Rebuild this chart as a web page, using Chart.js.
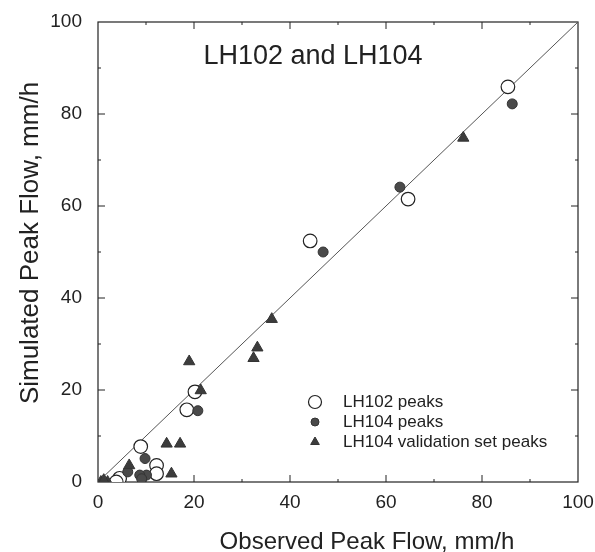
<!DOCTYPE html>
<html>
<head>
<meta charset="utf-8">
<script src="https://cdn.jsdelivr.net/npm/chart.js@4.4.0/dist/chart.umd.min.js"></script>
<style>
    html, body { margin: 0; padding: 0; background: #fff; }
</style>
</head>
<body>
<canvas id="c" width="595" height="552"></canvas>
<script>
// observed (x) vs simulated (y) peak flow, mm/h
const lh102Obs = [85.4, 64.6, 44.2, 20.2, 18.5, 8.9, 12.2, 12.2, 4.5, 3.8];
const lh102Sim = [85.9, 61.5, 52.4, 19.6, 15.7, 7.7, 3.6, 1.8, 0.8, 0.0];

const lh104Obs = [86.3, 62.9, 46.9, 20.8, 9.8, 10.1, 8.7, 9.1, 6.2];
const lh104Sim = [82.2, 64.1, 50.0, 15.5, 5.1, 1.5, 1.5, 0.7, 2.2];

const valObs = [76.1, 36.2, 33.2, 32.4, 19.0, 21.4, 14.3, 17.1, 15.3, 6.5, 0.6, 2.0, 1.2];
const valSim = [74.8, 35.4, 29.2, 26.9, 26.2, 19.9, 8.3, 8.3, 1.8, 3.6, 0.0, 0.0, 0.4];

const lineObs = [0, 100];
const lineSim = [0, 100];

const xTicks = [0, 20, 40, 60, 80, 100];
const yTicks = [0, 20, 40, 60, 80, 100];

const legendLabels = ['LH102 peaks', 'LH104 peaks', 'LH104 validation set peaks'];

const pts = (xs, ys) => xs.map((x, i) => ({ x: x, y: ys[i] }));
const FONT = "'Liberation Sans', Arial, Helvetica, sans-serif";
const INK = '#222';

// frame, inward ticks, titles and legend
const decorations = {
    id: 'decorations',
    beforeDatasetsDraw(chart) {
        const ctx = chart.ctx;
        const a = chart.chartArea;
        const xs = chart.scales.x, ys = chart.scales.y;
        ctx.save();
        ctx.strokeStyle = INK;
        ctx.lineWidth = 1.2;
        ctx.strokeRect(a.left, a.top, a.right - a.left, a.bottom - a.top);
        ctx.lineWidth = 1;
        for (let v = 10; v < 100; v += 10) {
            let len = v % 20 === 0 ? 7 : 3;
            let px = xs.getPixelForValue(v);
            let py = ys.getPixelForValue(v);
            ctx.beginPath();
            ctx.moveTo(px, a.bottom); ctx.lineTo(px, a.bottom - len);
            ctx.moveTo(px, a.top); ctx.lineTo(px, a.top + len);
            ctx.moveTo(a.left, py); ctx.lineTo(a.left + len, py);
            ctx.moveTo(a.right, py); ctx.lineTo(a.right - len, py);
            ctx.stroke();
        }
        ctx.restore();
    },
    afterDraw(chart) {
        const ctx = chart.ctx;
        ctx.save();
        ctx.fillStyle = INK;
        ctx.textAlign = 'center';
        ctx.textBaseline = 'middle';

        // chart title
        ctx.font = '27px ' + FONT;
        ctx.fillText('LH102 and LH104', 313, 57);

        // axis titles
        ctx.font = '24px ' + FONT;
        ctx.fillText('Observed Peak Flow, mm/h', 367, 542);
        ctx.save();
        ctx.translate(31, 243);
        ctx.rotate(-Math.PI / 2);
        ctx.font = '26px ' + FONT;
        ctx.fillText('Simulated Peak Flow, mm/h', 0, 0);
        ctx.restore();

        // legend
        const H = Chart.helpers;
        const rows = [402, 422, 442];
        const styles = [
            { pointStyle: 'circle', radius: 6.5, fill: '#fff', stroke: INK, borderWidth: 1.2 },
            { pointStyle: 'circle', radius: 4, fill: '#4a4a4a', stroke: '#333', borderWidth: 1 },
            { pointStyle: 'triangle', radius: 5, fill: '#3c3c3c', stroke: '#333', borderWidth: 1 },
        ];
        ctx.font = '17px ' + FONT;
        ctx.textAlign = 'left';
        legendLabels.forEach((label, i) => {
            const s = styles[i];
            ctx.fillStyle = s.fill;
            ctx.strokeStyle = s.stroke;
            ctx.lineWidth = s.borderWidth;
            H.drawPoint(ctx, { pointStyle: s.pointStyle, radius: s.radius, rotation: 0, borderWidth: s.borderWidth }, 315, rows[i]);
            ctx.fillStyle = INK;
            ctx.fillText(label, 343, rows[i]);
        });
        ctx.restore();
    }
};

new Chart(document.getElementById('c'), {
    type: 'scatter',
    data: {
        datasets: [
            {
                label: legendLabels[2],
                data: pts(valObs, valSim),
                pointStyle: 'triangle',
                radius: 6.5,
                backgroundColor: '#3c3c3c',
                borderColor: '#333',
                borderWidth: 1,
            },
            {
                label: legendLabels[1],
                data: pts(lh104Obs, lh104Sim),
                pointStyle: 'circle',
                radius: 5,
                backgroundColor: '#4a4a4a',
                borderColor: '#333',
                borderWidth: 1,
            },
            {
                label: legendLabels[0],
                data: pts(lh102Obs, lh102Sim),
                pointStyle: 'circle',
                radius: 6.8,
                backgroundColor: '#fff',
                borderColor: INK,
                borderWidth: 1.2,
            },
            {
                label: '1:1',
                data: pts(lineObs, lineSim),
                showLine: true,
                pointRadius: 0,
                borderColor: '#555',
                borderWidth: 1,
            },
        ],
    },
    options: {
        responsive: false,
        animation: false,
        layout: { padding: { left: 0, top: 22, right: 17, bottom: 0 } },
        plugins: {
            legend: { display: false },
            tooltip: { enabled: false },
        },
        scales: {
            x: {
                type: 'linear',
                min: 0,
                max: 100,
                afterBuildTicks: (s) => { s.ticks = xTicks.map(v => ({ value: v })); },
                afterFit: (s) => {
                    s.height = 70;
                    s.paddingLeft = 0;
                    s.paddingRight = 0;
                },
                grid: { display: false, drawTicks: false },
                border: { display: false },
                ticks: {
                    padding: 9,
                    color: INK,
                    font: { family: FONT, size: 19 },
                    maxRotation: 0,
                },
            },
            y: {
                type: 'linear',
                min: 0,
                max: 100,
                afterBuildTicks: (s) => { s.ticks = yTicks.map(v => ({ value: v })); },
                afterFit: (s) => {
                    s.width = 98;
                    s.paddingTop = 0;
                    s.paddingBottom = 0;
                },
                grid: { display: false, drawTicks: false },
                border: { display: false },
                ticks: {
                    padding: 16,
                    color: INK,
                    font: { family: FONT, size: 19 },
                },
            },
        },
    },
    plugins: [decorations],
});
</script>
</body>
</html>
